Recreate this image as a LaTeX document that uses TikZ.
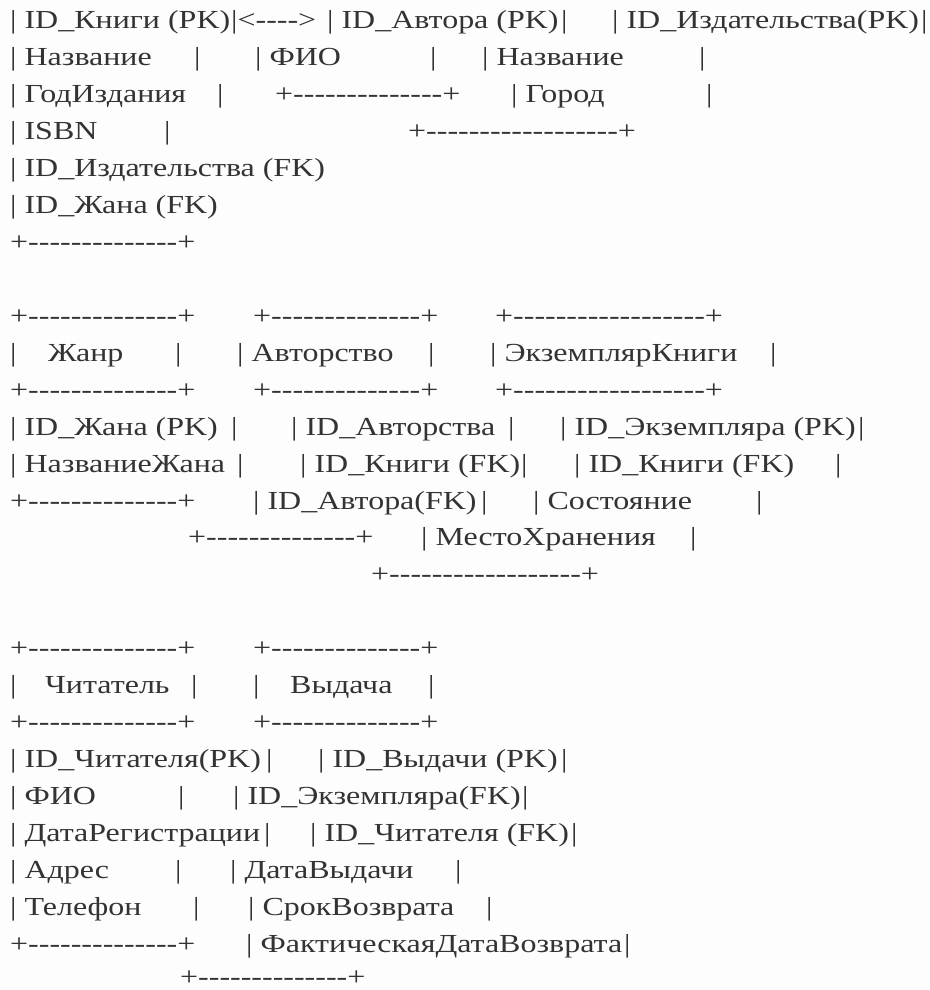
\documentclass[tikz,border=0pt]{standalone}
\usepackage{fontspec}
\setmainfont{Liberation Serif}[FakeStretch=1.23, Ligatures=TeXOff]
\definecolor{txt}{RGB}{51,51,51}
\definecolor{bg}{RGB}{253,253,253}
\begin{document}
\begin{tikzpicture}[x=1pt,y=1pt,
  asc/.style={anchor=base west, inner sep=0pt, text=txt, font=\fontsize{26}{30}\selectfont}]
\fill[bg] (0,0) rectangle (929,-990);
\useasboundingbox (0,0) rectangle (929,-990);
% line 1
\node[asc] (l1a) at (10,-29) {| ID\_Книги (PK)};
\node[asc] (l1b) at (231,-29) {|<---->};
\node[asc] (l1c) at (327,-29) {| ID\_Автора (PK)};
\node[asc] (l1d) at (561,-29) {|};
\node[asc] (l1e) at (612,-29) {| ID\_Издательства(PK)};
\node[asc] (l1f) at (921,-29) {|};
% line 2
\node[asc] (l2a) at (10,-65.9) {| Название};
\node[asc] (l2b) at (194,-65.9) {|};
\node[asc] (l2c) at (255,-65.9) {| ФИО};
\node[asc] (l2d) at (430,-65.9) {|};
\node[asc] (l2e) at (482,-65.9) {| Название};
\node[asc] (l2f) at (699,-65.9) {|};
% line 3
\node[asc] (l3a) at (10,-102.8) {| ГодИздания};
\node[asc] (l3b) at (217,-102.8) {|};
\node[asc] (l3c) at (275,-102.8) {+--------------+};
\node[asc] (l3d) at (511,-102.8) {| Город};
\node[asc] (l3e) at (706,-102.8) {|};
% line 4
\node[asc] (l4a) at (10,-139.8) {| ISBN};
\node[asc] (l4b) at (164,-139.8) {|};
\node[asc] (l4c) at (408,-139.8) {+------------------+};
% line 5-7
\node[asc] (l5a) at (10,-176.7) {| ID\_Издательства (FK)};
\node[asc] (l6a) at (10,-213.6) {| ID\_Жана (FK)};
\node[asc] (l7a) at (10,-250.5) {+--------------+};
% line 9
\node[asc] (l9a) at (10,-324.4) {+--------------+};
\node[asc] (l9b) at (253,-324.4) {+--------------+};
\node[asc] (l9c) at (495,-324.4) {+------------------+};
% line 10
\node[asc] (l10a) at (10,-361.3) {|};
\node[asc] (l10b) at (48,-361.3) {Жанр};
\node[asc] (l10c) at (175,-361.3) {|};
\node[asc] (l10d) at (237,-361.3) {| Авторство};
\node[asc] (l10e) at (428,-361.3) {|};
\node[asc] (l10f) at (490,-361.3) {| ЭкземплярКниги};
\node[asc] (l10g) at (770,-361.3) {|};
% line 11
\node[asc] (l11a) at (10,-398.2) {+--------------+};
\node[asc] (l11b) at (253,-398.2) {+--------------+};
\node[asc] (l11c) at (495,-398.2) {+------------------+};
% line 12
\node[asc] (l12a) at (10,-435.1) {| ID\_Жана (PK)};
\node[asc] (l12b) at (231,-435.1) {|};
\node[asc] (l12c) at (291,-435.1) {| ID\_Авторства};
\node[asc] (l12d) at (508,-435.1) {|};
\node[asc] (l12e) at (560,-435.1) {| ID\_Экземпляра (PK)};
\node[asc] (l12f) at (858,-435.1) {|};
% line 13
\node[asc] (l13a) at (10,-472) {| НазваниеЖана};
\node[asc] (l13b) at (237,-472) {|};
\node[asc] (l13c) at (300,-472) {| ID\_Книги (FK)};
\node[asc] (l13d) at (521,-472) {|};
\node[asc] (l13e) at (574,-472) {| ID\_Книги (FK)};
\node[asc] (l13f) at (835,-472) {|};
% line 14
\node[asc] (l14a) at (10,-509) {+--------------+};
\node[asc] (l14b) at (253,-509) {| ID\_Автора(FK)};
\node[asc] (l14c) at (481,-509) {|};
\node[asc] (l14d) at (533,-509) {| Состояние};
\node[asc] (l14e) at (756,-509) {|};
% line 15
\node[asc] (l15a) at (188,-545.9) {+--------------+};
\node[asc] (l15b) at (421,-545.9) {| МестоХранения};
\node[asc] (l15c) at (690,-545.9) {|};
% line 16
\node[asc] (l16a) at (371,-582.8) {+------------------+};
% line 18
\node[asc] (l18a) at (10,-656.6) {+--------------+};
\node[asc] (l18b) at (253,-656.6) {+--------------+};
% line 19
\node[asc] (l19a) at (10,-693.6) {|};
\node[asc] (l19b) at (45,-693.6) {Читатель};
\node[asc] (l19c) at (191,-693.6) {|};
\node[asc] (l19d) at (253,-693.6) {|};
\node[asc] (l19e) at (290,-693.6) {Выдача};
\node[asc] (l19f) at (428,-693.6) {|};
% line 20
\node[asc] (l20a) at (10,-730.5) {+--------------+};
\node[asc] (l20b) at (253,-730.5) {+--------------+};
% line 21
\node[asc] (l21a) at (10,-767.4) {| ID\_Читателя(PK)};
\node[asc] (l21b) at (266,-767.4) {|};
\node[asc] (l21c) at (318,-767.4) {| ID\_Выдачи (PK)};
\node[asc] (l21d) at (561,-767.4) {|};
% line 22
\node[asc] (l22a) at (10,-804.3) {| ФИО};
\node[asc] (l22b) at (178,-804.3) {|};
\node[asc] (l22c) at (233,-804.3) {| ID\_Экземпляра(FK)};
\node[asc] (l22d) at (522,-804.3) {|};
% line 23
\node[asc] (l23a) at (10,-841.2) {| ДатаРегистрации};
\node[asc] (l23b) at (264,-841.2) {|};
\node[asc] (l23c) at (310,-841.2) {| ID\_Читателя (FK)};
\node[asc] (l23d) at (571,-841.2) {|};
% line 24
\node[asc] (l24a) at (10,-878.2) {| Адрес};
\node[asc] (l24b) at (175,-878.2) {|};
\node[asc] (l24c) at (230,-878.2) {| ДатаВыдачи};
\node[asc] (l24d) at (455,-878.2) {|};
% line 25
\node[asc] (l25a) at (10,-915.1) {| Телефон};
\node[asc] (l25b) at (193,-915.1) {|};
\node[asc] (l25c) at (248,-915.1) {| СрокВозврата};
\node[asc] (l25d) at (486,-915.1) {|};
% line 26
\node[asc] (l26a) at (10,-952) {+--------------+};
\node[asc] (l26b) at (246,-952) {| ФактическаяДатаВозврата};
\node[asc] (l26c) at (624,-952) {|};
% line 27
\node[asc] (l27a) at (180,-985) {+--------------+};
\end{tikzpicture}
\end{document}
